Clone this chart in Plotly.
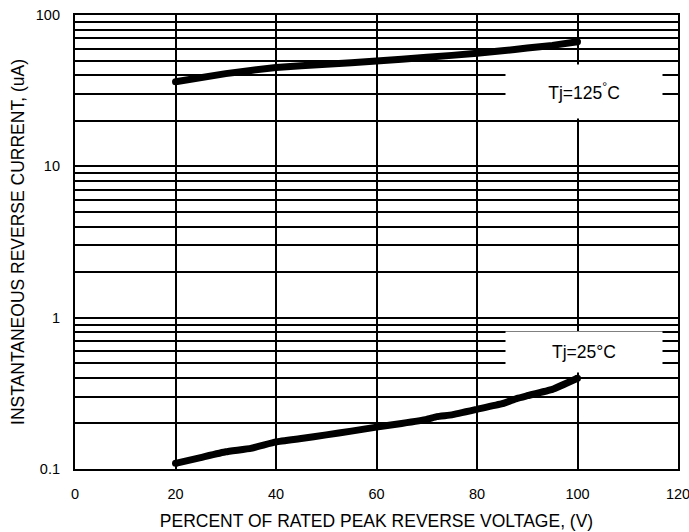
import math
import plotly.graph_objects as go

# Data
x_125 = [20, 30, 40, 50, 60, 70, 80, 85, 90, 95, 100]
y_125 = [36.2, 41.0, 45.0, 47.2, 49.7, 52.5, 55.8, 58.0, 60.5, 63.0, 66.5]

x_25 = [20, 25, 30, 35, 40, 45, 50, 55, 60, 65, 70, 72, 75, 80, 85, 88, 90, 95, 100]
y_25 = [0.109, 0.119, 0.130, 0.137, 0.151, 0.159, 0.168, 0.178, 0.189, 0.200, 0.213,
        0.222, 0.228, 0.248, 0.270, 0.293, 0.305, 0.336, 0.398]

x_ticks = [0, 20, 40, 60, 80, 100, 120]
y_major = [0.1, 1, 10, 100]
y_major_text = ["0.1", "1", "10", "100"]
y_minor = [round(m * d, 3) for d in [0.1, 1, 10] for m in range(2, 10)]

labels = ["Tj=125<sup>°</sup>C", "Tj=25°C"]
label_x = [101.2, 101.2]
label_y = [31.2, 0.593]
label_w = [156, 156]
label_h = [53, 40]

FONT = "Liberation Sans, Arial, sans-serif"

fig = go.Figure()
for xs, ys in [(x_125, y_125), (x_25, y_25)]:
    fig.add_trace(go.Scatter(
        x=xs, y=ys, mode="lines",
        line=dict(color="black", width=7, shape="spline", smoothing=0.3),
        showlegend=False, hoverinfo="skip"))
    fig.add_trace(go.Scatter(
        x=[xs[0], xs[-1]], y=[ys[0], ys[-1]], mode="markers",
        marker=dict(color="black", size=7), showlegend=False, hoverinfo="skip"))

for t, lx, ly, w, h in zip(labels, label_x, label_y, label_w, label_h):
    fig.add_annotation(x=lx, y=math.log10(ly), xref="x", yref="y", text=t, showarrow=False,
                       font=dict(family=FONT, size=17.5, color="black"),
                       bgcolor="white", width=w, height=h, borderpad=0,
                       xanchor="center", yanchor="middle")

fig.update_layout(
    width=689, height=532,
    margin=dict(l=75, r=11, t=15, b=63),
    paper_bgcolor="white", plot_bgcolor="white",
    font=dict(family=FONT, color="black"),
    xaxis=dict(
        range=[0, 120], tickvals=x_ticks, ticktext=[str(v) for v in x_ticks],
        showgrid=True, gridcolor="black", gridwidth=1.6, zeroline=False,
        showline=True, linecolor="black", linewidth=2.2, mirror=True,
        ticks="", ticklabelstandoff=10, ticklabeloverflow="allow",
        tickfont=dict(family=FONT, size=14.5, color="black"),
        title=dict(text="PERCENT OF RATED PEAK REVERSE VOLTAGE, (V)",
                   font=dict(family=FONT, size=17.5, color="black"), standoff=14),
        automargin=False,
    ),
    yaxis=dict(
        type="log", range=[-1, 2], tickvals=y_major, ticktext=y_major_text,
        showgrid=True, gridcolor="black", gridwidth=1.6, zeroline=False,
        minor=dict(tickvals=y_minor, showgrid=True, gridcolor="black", gridwidth=1.6, ticks=""),
        showline=True, linecolor="black", linewidth=2.2, mirror=True,
        ticks="", ticklabelstandoff=10, ticklabeloverflow="allow",
        tickfont=dict(family=FONT, size=14.5, color="black"),
        title=dict(text="INSTANTANEOUS REVERSE CURRENT, (uA)",
                   font=dict(family=FONT, size=17.5, color="black"), standoff=7),
        automargin=False,
    ),
)

fig.write_html("out.html", config={"displayModeBar": False},
               post_script="document.body.style.margin='0';")
